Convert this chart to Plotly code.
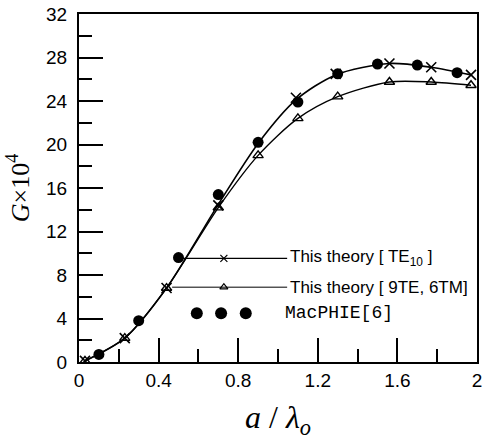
import plotly.graph_objects as go

# ---- data ----
te10_x = [0.03, 0.23, 0.44, 0.70, 0.90, 1.09, 1.29, 1.56, 1.77, 1.97]
te10_y = [0.1, 2.2, 6.8, 14.5, 20.1, 24.1, 26.4, 27.45, 27.1, 26.4]
te10_mx = [0.03, 0.23, 0.44, 0.70, 1.09, 1.29, 1.56, 1.77, 1.97]
te10_my = [0.1, 2.2, 6.8, 14.4, 24.3, 26.5, 27.45, 27.1, 26.4]

tm_x = [0.03, 0.23, 0.44, 0.70, 0.90, 1.10, 1.30, 1.56, 1.77, 1.97]
tm_y = [0.1, 2.2, 6.8, 14.2, 19.0, 22.4, 24.4, 25.75, 25.75, 25.45]

mac_x = [0.1, 0.3, 0.5, 0.7, 0.9, 1.1, 1.3, 1.5, 1.7, 1.9]
mac_y = [0.7, 3.8, 9.6, 15.4, 20.2, 23.9, 26.5, 27.4, 27.3, 26.6]

x_ticks = [0, 0.4, 0.8, 1.2, 1.6, 2]
x_ticklabels = ["0", "0.4", "0.8", "1.2", "1.6", "2"]
y_ticks = [0, 4, 8, 12, 16, 20, 24, 28, 32]

leg_labels = ["This theory [ TE<sub>10</sub> ]", "This theory [ 9TE, 6TM]", "MacPHIE[6]"]

# ---- figure ----
fig = go.Figure()

fig.add_trace(go.Scatter(x=te10_x, y=te10_y, mode="lines", line=dict(color="black", width=1.6, shape="spline", smoothing=0.8), showlegend=False))
fig.add_trace(go.Scatter(x=te10_mx, y=te10_my, mode="markers",
                         marker=dict(symbol="x-thin-open", size=10, color="black", line=dict(color="black", width=1.6)), showlegend=False))
fig.add_trace(go.Scatter(x=tm_x, y=tm_y, mode="lines+markers", line=dict(color="black", width=1.4, shape="spline", smoothing=0.8),
                         marker=dict(symbol="triangle-up-open", size=9, color="black", line=dict(color="black", width=1.4)), showlegend=False))
fig.add_trace(go.Scatter(x=mac_x, y=mac_y, mode="markers", marker=dict(symbol="circle", size=11, color="black"), showlegend=False))

# ---- custom legend on overlay axes (0..1 of plot area) ----
row_y = [0.298, 0.215, 0.140]
line_x0 = [0.254, 0.234]
line_x1 = 0.523
mark_x = 0.364
text_x = [0.525, 0.525, 0.512]
dots_x = [0.296, 0.357, 0.419]

fig.add_trace(go.Scatter(x=[line_x0[0], line_x1], y=[row_y[0]] * 2, xaxis="x2", yaxis="y2", mode="lines",
                         line=dict(color="black", width=1.2), showlegend=False, hoverinfo="skip"))
fig.add_trace(go.Scatter(x=[mark_x], y=[row_y[0]], xaxis="x2", yaxis="y2", mode="markers",
                         marker=dict(symbol="x-thin-open", size=7, color="black", line=dict(color="black", width=1.2)),
                         showlegend=False, hoverinfo="skip"))
fig.add_trace(go.Scatter(x=[line_x0[1], line_x1], y=[row_y[1]] * 2, xaxis="x2", yaxis="y2", mode="lines",
                         line=dict(color="black", width=1.0), showlegend=False, hoverinfo="skip"))
fig.add_trace(go.Scatter(x=[mark_x], y=[row_y[1]], xaxis="x2", yaxis="y2", mode="markers",
                         marker=dict(symbol="triangle-up-open", size=7, color="black", line=dict(color="black", width=1.2)),
                         showlegend=False, hoverinfo="skip"))
fig.add_trace(go.Scatter(x=dots_x, y=[row_y[2]] * 3, xaxis="x2", yaxis="y2", mode="markers",
                         marker=dict(symbol="circle", size=12, color="black"), showlegend=False, hoverinfo="skip"))

for i, lab in enumerate(leg_labels):
    font = dict(family="Liberation Sans, Arial", size=17, color="black")
    if i == 2:
        font = dict(family="Liberation Mono, Courier New", size=18, color="black")
    fig.add_annotation(x=text_x[i], y=row_y[i], xref="x2", yref="y2", text=lab, showarrow=False,
                       xanchor="left", yanchor="middle", font=font)

fig.update_layout(
    width=483, height=440,
    margin=dict(l=79, r=6, t=14, b=78),
    paper_bgcolor="white", plot_bgcolor="white",
    font=dict(family="Liberation Sans, Arial", size=19, color="black"),
    xaxis=dict(range=[0, 2], tickvals=x_ticks, ticktext=x_ticklabels, ticks="inside", ticklen=24, tickwidth=1.6,
               tickcolor="black", showline=True, linecolor="black", linewidth=2, mirror=True, showgrid=False, zeroline=False,
               automargin=False, ticklabeloverflow="allow",
               tickfont=dict(color="black", size=19),
               minor=dict(dtick=0.2, tick0=0, ticks="inside", ticklen=13, tickwidth=1.6, tickcolor="black"),
               title=dict(text="<i>a</i> / <i>λ<sub>o</sub></i>",
                          font=dict(family="Liberation Serif, Times New Roman", size=32, color="black"), standoff=16)),
    yaxis=dict(range=[0, 32], tickvals=y_ticks, ticks="inside", ticklen=24, tickwidth=1.6,
               tickcolor="black", showline=True, linecolor="black", linewidth=2, mirror=True, showgrid=False, zeroline=False,
               automargin=False, tickfont=dict(color="black", size=19), ticklabelstandoff=6,
               minor=dict(dtick=2, tick0=0, ticks="inside", ticklen=13, tickwidth=1.6, tickcolor="black"),
               title=dict(text="<i>G</i>×10<sup>4</sup>",
                          font=dict(family="Liberation Serif, Times New Roman", size=26, color="black"), standoff=9)),
    xaxis2=dict(overlaying="x", range=[0, 1], visible=False, fixedrange=True),
    yaxis2=dict(overlaying="y", range=[0, 1], visible=False, fixedrange=True),
)

fig.write_html("out.html", config={"displayModeBar": False},
               post_script="document.body.style.margin='0px';document.body.style.padding='0px';")
